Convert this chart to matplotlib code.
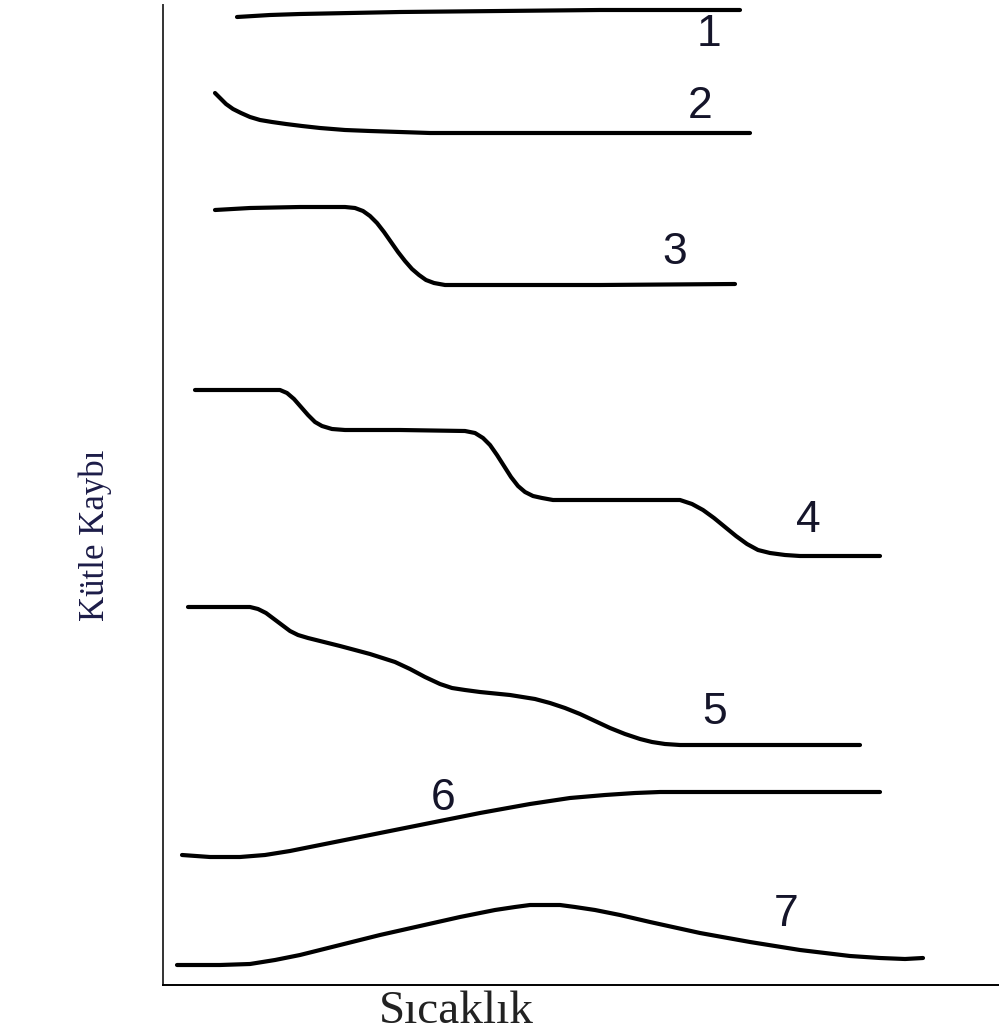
import matplotlib.pyplot as plt

# Curves: temperature (x) vs. position on the page (y, downwards = mass lost)
t1 = [237, 270, 300, 350, 400, 500, 600, 700, 740]
m1 = [17, 15, 14, 13, 12, 11, 10, 10, 10]

t2 = [215, 220, 226, 233, 241, 250, 260, 272, 286, 302, 320, 345, 370, 400, 430, 550, 650, 750]
m2 = [93, 98, 104, 109, 113, 117, 120, 122, 124, 126, 128, 130, 131, 132, 133, 133, 133, 133]

t3 = [215, 250, 300, 345, 355, 363, 370, 377, 384, 391, 398, 405, 412, 419, 426, 434,
      445, 460, 500, 600, 735]
m3 = [210, 208, 207, 207, 208, 211, 216, 223, 232, 242, 252, 261, 269, 275, 280, 283,
      285, 285, 285, 285, 284]

t4 = [195, 230, 280, 287, 294, 301, 308, 315, 322, 332, 345, 400, 465, 475, 483, 490,
      497, 504, 511, 518, 525, 533, 542, 553, 565, 620, 680, 692, 703, 714, 725, 736,
      747, 758, 770, 785, 800, 840, 880]
m4 = [390, 390, 390, 393, 399, 407, 415, 422, 426, 429, 430, 430, 431, 433, 438, 445,
      455, 466, 477, 486, 492, 496, 498, 500, 500, 500, 500, 504, 510, 518, 527, 536,
      544, 550, 553, 555, 556, 556, 556]

t5 = [188, 220, 250, 258, 266, 274, 282, 290, 298, 308, 320, 340, 370, 395, 410, 425,
      440, 452, 465, 480, 510, 535, 550, 565, 580, 595, 610, 625, 640, 652, 665, 680,
      700, 760, 860]
m5 = [607, 607, 607, 609, 613, 619, 625, 631, 635, 638, 641, 646, 654, 662, 669, 677,
      684, 688, 690, 692, 695, 699, 703, 708, 714, 721, 728, 734, 739, 742, 744, 745,
      745, 745, 745]

t6 = [182, 210, 240, 265, 290, 330, 380, 430, 480, 530, 570, 605, 635, 660, 690, 720,
      780, 880]
m6 = [855, 857, 857, 855, 851, 843, 833, 823, 813, 804, 798, 795, 793, 792, 792, 792,
      792, 792]

t7 = [177, 220, 250, 275, 300, 340, 380, 420, 460, 495, 515, 530, 545, 560, 575, 595,
      620, 650, 700, 750, 800, 850, 880, 905, 923]
m7 = [965, 965, 964, 960, 955, 945, 935, 926, 917, 910, 907, 905, 905, 905, 907, 910,
      915, 922, 933, 942, 950, 956, 958, 959, 958]

curves = [(t1, m1), (t2, m2), (t3, m3), (t4, m4), (t5, m5), (t6, m6), (t7, m7)]
labels = ['1', '2', '3', '4', '5', '6', '7']
label_pos = [(709, 35), (700, 106), (675, 253), (808, 521), (715, 713), (443, 799), (786, 914)]

fig = plt.figure(figsize=(9.99, 10.32), dpi=100)
ax = fig.add_axes([163 / 999, 47 / 1032, 836 / 999, 980 / 1032])

for t, m in curves:
    ax.plot(t, m, color='black', lw=3.0, solid_capstyle='round', solid_joinstyle='round')

for lab, (x, y) in zip(labels, label_pos):
    ax.text(x, y, lab, fontsize=32, family='Liberation Sans', color='#15152a',
            ha='center', va='center')

ax.set_xlim(163, 999)
ax.set_ylim(985, 5)
ax.set_xticks([])
ax.set_yticks([])
ax.spines['top'].set_visible(False)
ax.spines['right'].set_visible(False)
ax.spines['left'].set_color('#333333')
ax.spines['left'].set_linewidth(1.4)
ax.spines['bottom'].set_color('black')
ax.spines['bottom'].set_linewidth(1.4)

fig.text(95 / 999, 1 - 535 / 1032, 'Kütle Kaybı', rotation=90, fontsize=25,
         family='Liberation Serif', color='#1c1c48', ha='center', va='center')
fig.text(456 / 999, 1 - 1012 / 1032, 'Sıcaklık', fontsize=34,
         family='Liberation Serif', color='#222222', ha='center', va='center')

fig.savefig('out.png', dpi=100)
